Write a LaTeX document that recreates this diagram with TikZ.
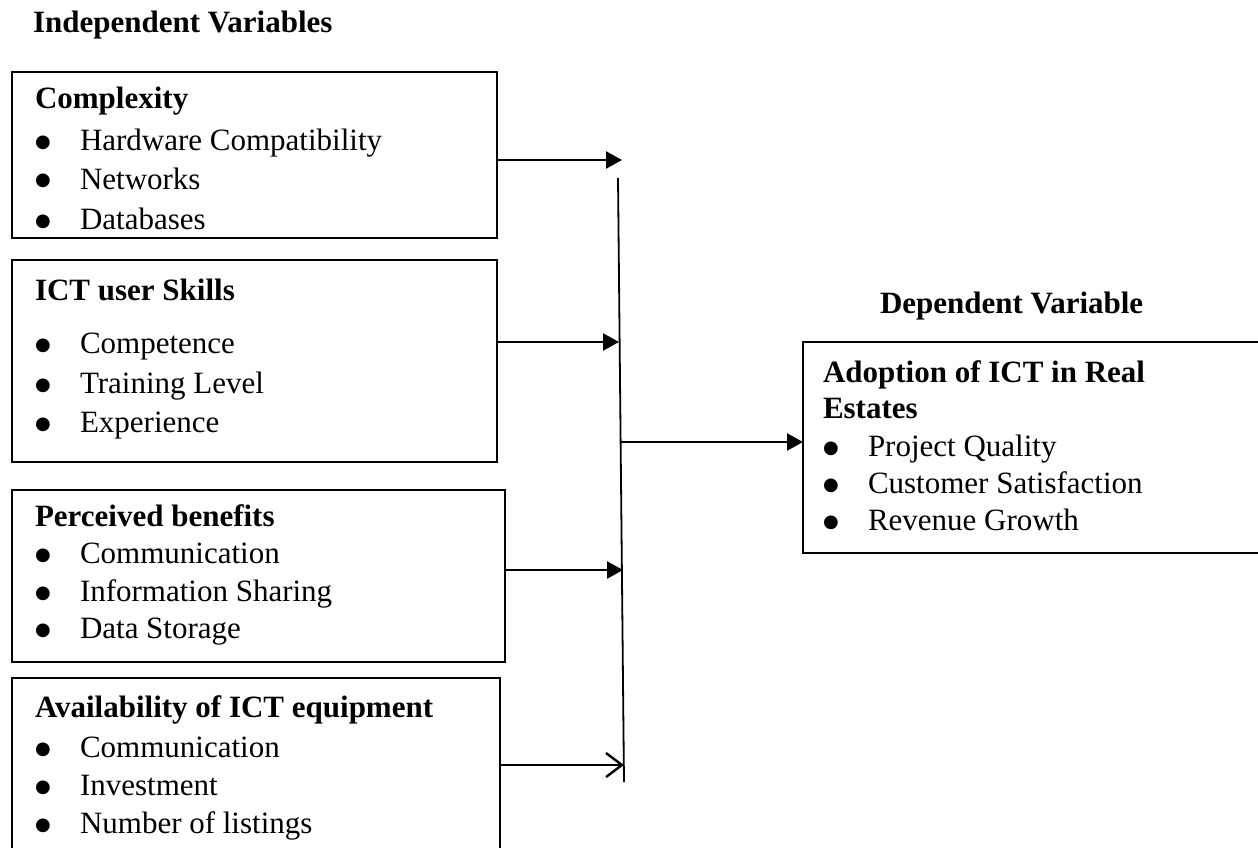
\documentclass[tikz,border=0pt]{standalone}
\usepackage{fontspec}
\setmainfont{Liberation Serif}
\newfontfamily\bulfont{DejaVu Sans}
\usetikzlibrary{arrows.meta}
\begin{document}
\begin{tikzpicture}[x=1pt,y=-1pt,
  box/.style={draw, line width=2.2pt, anchor=north west, inner sep=0pt, outer sep=0pt},
  txt/.style={anchor=base west, inner sep=0pt, outer sep=0pt, font=\fontsize{31}{38}\selectfont},
  hd/.style={txt, font=\fontsize{31}{38}\selectfont\bfseries},
  conn/.style={line width=2.4pt, -{Triangle[length=16pt,width=17pt]}},
  openconn/.style={line width=2.4pt, -{Straight Barb[length=16pt,width=24pt,line width=2.4pt]}},
  bus/.style={line width=1.8pt}]
\clip (0,0) rectangle (1258,848);
\fill[white] (0,0) rectangle (1258,848);
\newcommand{\itm}[1]{\makebox[45pt][l]{\raisebox{3pt}{\bulfont\fontsize{18}{18}\selectfont ●}}#1}

% titles
\node[hd] (tind) at (33,33) {Independent Variables};
\node[hd] (tdep) at (880,313) {Dependent Variable};

% boxes
\node[box, minimum width=485pt, minimum height=166pt] (b1) at (12,72) {};
\node[box, minimum width=485pt, minimum height=202pt] (b2) at (12,260) {};
\node[box, minimum width=493pt, minimum height=172pt] (b3) at (12,490) {};
\node[box, minimum width=488pt, minimum height=200pt] (b4) at (12,678) {};
\node[box, minimum width=470pt, minimum height=211pt] (b5) at (803,342) {};

% box 1
\node[hd]  (h1) at (35,109) {Complexity};
\node[txt] (i11) at (35,150) {\itm{Hardware Compatibility}};
\node[txt] (i12) at (35,189) {\itm{Networks}};
\node[txt] (i13) at (35,229) {\itm{Databases}};
% box 2
\node[hd]  (h2) at (35,300) {ICT user Skills};
\node[txt] (i21) at (35,353) {\itm{Competence}};
\node[txt] (i22) at (35,393) {\itm{Training Level}};
\node[txt] (i23) at (35,432) {\itm{Experience}};
% box 3
\node[hd]  (h3) at (35,526) {Perceived benefits};
\node[txt] (i31) at (35,563) {\itm{Communication}};
\node[txt] (i32) at (35,601) {\itm{Information Sharing}};
\node[txt] (i33) at (35,638) {\itm{Data Storage}};
% box 4
\node[hd]  (h4) at (35,717) {Availability of ICT equipment};
\node[txt] (i41) at (35,757) {\itm{Communication}};
\node[txt] (i42) at (35,795) {\itm{Investment}};
\node[txt] (i43) at (35,833) {\itm{Number of listings}};
% box 5
\node[hd]  (h5a) at (823,382) {Adoption of ICT in Real};
\node[hd]  (h5b) at (823,418) {Estates};
\node[txt] (i51) at (823,456) {\itm{Project Quality}};
\node[txt] (i52) at (823,493) {\itm{Customer Satisfaction}};
\node[txt] (i53) at (823,530) {\itm{Revenue Growth}};

% bus and arrow ends
\coordinate (bustop) at (618,178);
\coordinate (busbot) at (624,782);
\coordinate (t1) at (622,160);
\coordinate (t2) at (619,342);
\coordinate (t3) at (623,570);
\coordinate (t4) at (624,765);
\coordinate (s5) at (621,442);

\draw[bus] (bustop) -- (busbot);
\draw[conn] (b1.east |- t1) -- (t1);
\draw[conn] (b2.east |- t2) -- (t2);
\draw[conn] (b3.east |- t3) -- (t3);
\draw[openconn] (b4.east |- t4) -- (t4);
\draw[conn] (s5) -- (b5.west |- s5);
\end{tikzpicture}
\end{document}
